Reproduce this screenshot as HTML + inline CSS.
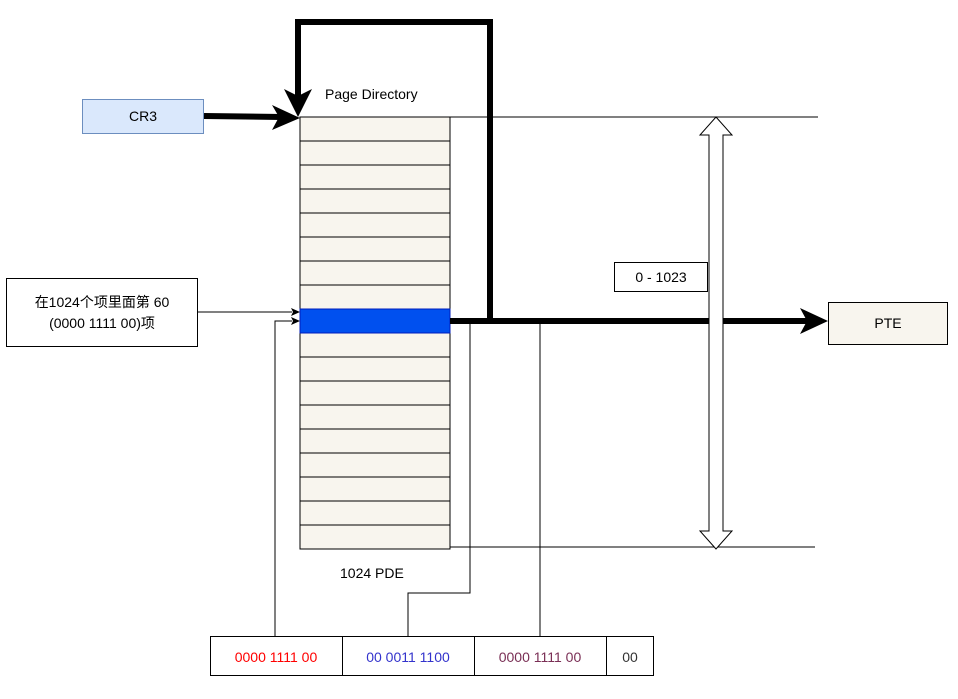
<!DOCTYPE html>
<html><head><meta charset="utf-8"><style>
body{margin:0;background:#fff;}
svg text{font-family:"Liberation Sans","Noto Sans CJK SC",sans-serif;font-size:14px;}
</style></head><body>
<svg width="958" height="694" xmlns="http://www.w3.org/2000/svg">
<rect x="300" y="117" width="150" height="432" fill="#f8f5ee" stroke="#000"/>
<g stroke="#000">
<line x1="300" y1="141" x2="450" y2="141"/><line x1="300" y1="165" x2="450" y2="165"/>
<line x1="300" y1="189" x2="450" y2="189"/><line x1="300" y1="213" x2="450" y2="213"/>
<line x1="300" y1="237" x2="450" y2="237"/><line x1="300" y1="261" x2="450" y2="261"/>
<line x1="300" y1="285" x2="450" y2="285"/>
<line x1="300" y1="357" x2="450" y2="357"/><line x1="300" y1="381" x2="450" y2="381"/>
<line x1="300" y1="405" x2="450" y2="405"/><line x1="300" y1="429" x2="450" y2="429"/>
<line x1="300" y1="453" x2="450" y2="453"/><line x1="300" y1="477" x2="450" y2="477"/>
<line x1="300" y1="501" x2="450" y2="501"/><line x1="300" y1="525" x2="450" y2="525"/>
<line x1="450" y1="117" x2="818" y2="117"/><line x1="450" y1="547" x2="815" y2="547"/>
</g>
<rect x="300" y="309" width="150" height="24" fill="#0050ef" stroke="#001dbc"/>
<text x="325" y="99" font-size="13">Page Directory</text>
<text x="340" y="578">1024 PDE</text>
<!-- thin connectors -->
<g stroke="#000" fill="none">
<polyline points="197,312 292,312"/>
<polyline points="275,636 275,321 292,321"/>
<polyline points="470,322 470,593 408,593 408,636"/>
<line x1="540" y1="322" x2="540" y2="636"/>
</g>
<path d="M300,312 L291,308 L293,312 L291,316Z M300,321 L291,317 L293,321 L291,325Z" fill="#000"/>
<!-- thick -->
<g stroke="#000" stroke-width="6" fill="none">
<polyline points="450,321 490,321 490,22 298,22 298,98"/>
<line x1="450" y1="321" x2="808" y2="321"/>
<line x1="204" y1="116" x2="282" y2="117"/>
</g>
<path d="M298,117 L284,89 L298,96 L312,89Z" fill="#000"/>
<path d="M828,321 L800,308 L807,321 L800,334Z" fill="#000"/>
<path d="M300,118 L272,105 L279,117 L272,130Z" fill="#000"/>
<!-- double arrow -->
<path d="M716,117 L732,135 L723,135 L723,531 L732,531 L716,549 L700,531 L709,531 L709,135 L700,135Z" fill="#fff" stroke="#000"/>
<rect x="614.5" y="262.5" width="93" height="29" fill="#fff" stroke="#000"/>
<text x="661" y="282" text-anchor="middle">0 - 1023</text>
<rect x="82.5" y="99.5" width="121" height="34" fill="#dae8fc" stroke="#6c8ebf"/>
<text x="143" y="121" text-anchor="middle">CR3</text>
<rect x="828.5" y="302.5" width="119" height="42" fill="#f8f5ee" stroke="#000"/>
<text x="888" y="328" text-anchor="middle">PTE</text>
<rect x="6.5" y="278.5" width="191" height="68" fill="#fff" stroke="#000"/>
<text x="102" y="307" text-anchor="middle">在1024个项里面第 60</text>
<text x="102" y="328" text-anchor="middle">(0000 1111 00)项</text>
<g stroke="#000" fill="#fff">
<rect x="210.5" y="636.5" width="132" height="39"/><rect x="342.5" y="636.5" width="132" height="39"/>
<rect x="474.5" y="636.5" width="132" height="39"/><rect x="606.5" y="636.5" width="47" height="39"/>
</g>
<text x="276" y="662" text-anchor="middle" fill="#ff0000">0000 1111 00</text>
<text x="408" y="662" text-anchor="middle" fill="#3333cc">00 0011 1100</text>
<text x="540" y="662" text-anchor="middle" fill="#7a2f55">0000 1111 00</text>
<text x="630" y="662" text-anchor="middle" fill="#333">00</text>
</svg>
</body></html>
